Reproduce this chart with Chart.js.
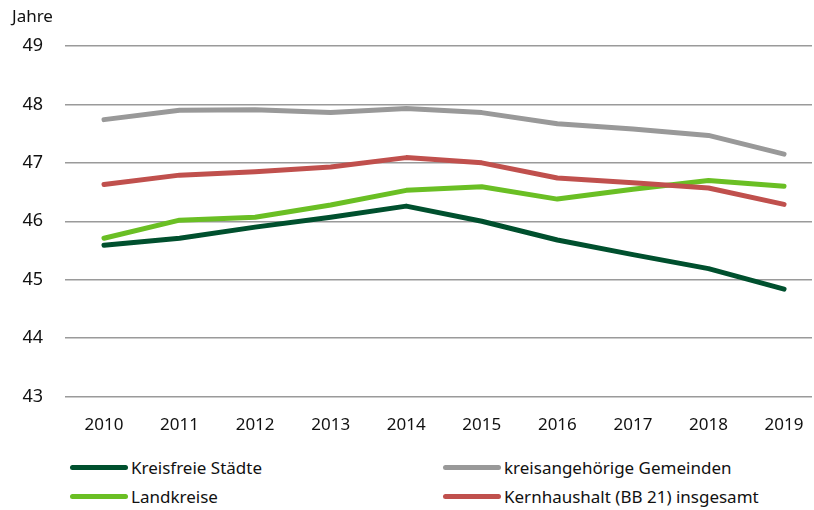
<!DOCTYPE html>
<html>
<head>
<meta charset="utf-8">
<script src="https://cdn.jsdelivr.net/npm/chart.js@4"></script>
<style>
  body { margin: 0; background: #fff; font-family: "Noto Sans", sans-serif; }
  #wrap { position: relative; width: 814px; height: 510px; }
  #chart-box { position: absolute; left: 0; top: 0; width: 814px; height: 445px; }
  #legend { position: absolute; left: 70px; top: 456px; width: 744px; }
  .item { position: absolute; display: flex; align-items: center; font-size: 17px; color: #111; }
  .swatch { width: 58px; height: 5px; border-radius: 3px; margin-right: 3px; }
</style>
</head>
<body>
<div id="wrap">
  <div id="chart-box"><canvas id="chart"></canvas></div>
  <div id="legend"></div>
</div>
<script>
const years = [2010, 2011, 2012, 2013, 2014, 2015, 2016, 2017, 2018, 2019];

const kreisfreieStaedte = [45.59, 45.71, 45.9, 46.07, 46.26, 46.0, 45.68, 45.43, 45.19, 44.84];
const kreisangehoerige = [47.74, 47.9, 47.91, 47.86, 47.93, 47.86, 47.67, 47.58, 47.47, 47.15];
const landkreise = [45.71, 46.02, 46.07, 46.28, 46.53, 46.59, 46.38, 46.55, 46.7, 46.6];
const kernhaushalt = [46.63, 46.79, 46.85, 46.93, 47.09, 47.0, 46.74, 46.66, 46.57, 46.29];

const seriesNames = ["Kreisfreie Städte", "kreisangehörige Gemeinden", "Landkreise", "Kernhaushalt (BB 21) insgesamt"];
const seriesColors = ["#00502e", "#999999", "#6abf24", "#c0504d"];

const lineSet = (label, data, color) => ({
  label: label,
  data: data.map((v, i) => ({ x: years[i], y: v })),
  borderColor: color,
  backgroundColor: color,
  borderWidth: 5,
  pointRadius: 0,
  tension: 0,
  borderCapStyle: "round",
  borderJoinStyle: "round",
});

// order so red/green draw on top the way the original overlaps
const datasets = [
  lineSet(seriesNames[1], kreisangehoerige, seriesColors[1]),
  lineSet(seriesNames[3], kernhaushalt, seriesColors[3]),
  lineSet(seriesNames[2], landkreise, seriesColors[2]),
  lineSet(seriesNames[0], kreisfreieStaedte, seriesColors[0]),
];

new Chart(document.getElementById("chart").getContext("2d"), {
  type: "line",
  data: { datasets: datasets },
  options: {
    responsive: true,
    maintainAspectRatio: false,
    animation: false,
    layout: { padding: { left: 12, right: 2, top: 0, bottom: 0 } },
    plugins: {
      legend: { display: false },
      tooltip: { enabled: false },
      title: {
        display: true,
        text: "Jahre",
        align: "start",
        color: "#111",
        font: { family: "Noto Sans", size: 17, weight: "normal" },
        padding: { top: 7, bottom: 18.6 },
      },
    },
    scales: {
      x: {
        type: "linear",
        min: 2009.484,
        max: 2019.37,
        afterBuildTicks: (scale) => { scale.ticks = years.map((y) => ({ value: y })); },
        grid: { display: false },
        border: { display: false },
        ticks: {
          color: "#111",
          font: { family: "Noto Sans", size: 17 },
          padding: 10,
          callback: (v) => String(v),
        },
      },
      y: {
        min: 43,
        max: 49,
        afterFit: (scale) => { scale.width = 53; },
        ticks: { stepSize: 1, color: "#111", font: { family: "Noto Sans", size: 18 }, padding: 22 },
        grid: { color: "#9a9a9a", lineWidth: 1.5, drawTicks: false },
        border: { display: false },
      },
    },
  },
});

// legend in two columns like the original
const legendDiv = document.getElementById("legend");
const legendPos = [[0, 0], [373, 0], [0, 29], [373, 29]];
seriesNames.forEach((name, i) => {
  const el = document.createElement("div");
  el.className = "item";
  el.style.left = legendPos[i][0] + "px";
  el.style.top = legendPos[i][1] + "px";
  el.innerHTML = `<span class="swatch" style="background:${seriesColors[i]}"></span><span>${name}</span>`;
  legendDiv.appendChild(el);
});
</script>
</body>
</html>
